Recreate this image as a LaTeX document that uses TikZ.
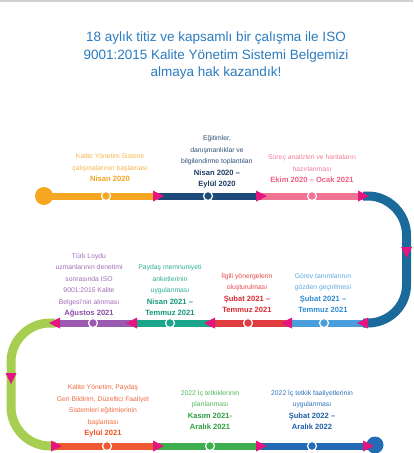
\documentclass[tikz,border=0pt]{standalone}
\usepackage{fontspec}
\setmainfont{Liberation Sans}
\definecolor{cTitle}{HTML}{2B7BBE}
\definecolor{cOr}{HTML}{F5A623}\definecolor{cOrT}{HTML}{F7B548}\definecolor{cOrB}{HTML}{F2A31F}
\definecolor{cNavy}{HTML}{1D4A7A}\definecolor{cNavyT}{HTML}{2E4E74}\definecolor{cNavyB}{HTML}{1B3B63}
\definecolor{cPink}{HTML}{F07493}\definecolor{cPinkT}{HTML}{F47E9A}\definecolor{cPinkB}{HTML}{EF5F86}
\definecolor{cArc}{HTML}{1A6A9C}
\definecolor{cMag}{HTML}{E5147F}
\definecolor{cLB}{HTML}{4A9EDC}\definecolor{cLBT}{HTML}{5CA8E0}\definecolor{cLBB}{HTML}{2E8AD2}
\definecolor{cRed}{HTML}{E03B3F}\definecolor{cRedT}{HTML}{E5474C}\definecolor{cRedB}{HTML}{D82A31}
\definecolor{cTeal}{HTML}{1BA68B}\definecolor{cTealT}{HTML}{2AAE93}\definecolor{cTealB}{HTML}{15967A}
\definecolor{cPur}{HTML}{9A5AB0}\definecolor{cPurT}{HTML}{A06BB8}\definecolor{cPurB}{HTML}{8B4BA6}
\definecolor{cLG}{HTML}{A6CE50}
\definecolor{cOR}{HTML}{EE5A31}\definecolor{cORT}{HTML}{F06A40}\definecolor{cORB}{HTML}{EC5325}
\definecolor{cGr}{HTML}{3FAE4E}\definecolor{cGrT}{HTML}{55B860}\definecolor{cGrB}{HTML}{2E9E3E}
\definecolor{cBl}{HTML}{236BB5}\definecolor{cBlT}{HTML}{2C72BA}\definecolor{cBlB}{HTML}{1F5FA8}
\newcommand{\dte}[2]{{\color{#1}\bfseries\fontsize{7.6}{11.5}\selectfont #2}}
\newcommand{\triR}[2]{\fill[cMag] (#1,#2) ++(0,-5.5) -- ++(11,5.5) -- ++(-11,5.5) -- cycle;}
\newcommand{\triL}[2]{\fill[cMag] (#1,#2) ++(0,-5.5) -- ++(-11,5.5) -- ++(11,5.5) -- cycle;}
\newcommand{\triD}[2]{\fill[cMag] (#1,#2) ++(-5.5,0) -- ++(5.5,11) -- ++(5.5,-11) -- cycle;}
\begin{document}
\begin{tikzpicture}[x=1pt,y=-1pt,
  bar/.style={line width=7pt},
  arcl/.style={line width=9pt},
  dot/.style={circle, draw=white, line width=1.2pt, minimum size=9pt, inner sep=0pt},
  bigdot/.style={circle, minimum size=18pt, inner sep=0pt},
  lbl/.style={align=center, font=\fontsize{6.8}{11.5}\selectfont, inner sep=0pt, text depth=0pt, anchor=south},
  ttl/.style={align=center, font=\fontsize{13.5}{17.5}\selectfont, text=cTitle, inner sep=0pt, text depth=0pt, anchor=south}]
\useasboundingbox (0,0) rectangle (413,453);
\fill[gray!35] (0,0) rectangle (413,1.5);

\node[ttl] (title) at (216,77) {18 aylık titiz ve kapsamlı bir çalışma ile ISO\\9001:2015 Kalite Yönetim Sistemi Belgemizi\\almaya hak kazandık!};

% coordinates
\coordinate (t1) at (158,196);
\coordinate (t2) at (261,196);
\coordinate (t3) at (363,196);
\coordinate (u1) at (363,323);
\coordinate (u2) at (287,323);
\coordinate (u3) at (210,323);
\coordinate (u4) at (132,323);
\coordinate (u5) at (55,323);
\coordinate (v0) at (56,446);
\coordinate (v1) at (158,446);
\coordinate (v2) at (261,446);
\coordinate (v3) at (368,446);

\node[bigdot, fill=cOr] (start) at (44,196) {};

% row 1 bars
\draw[bar,cOr] (start.center) -- (t1);
\draw[bar,cNavy] (t1) -- (t2);
\draw[bar,cPink] (t2) -- (t3);
% right bend
\draw[arcl,cArc] (t3) -- (368,196) .. controls (389,196) and (406.5,214) .. (406.5,235) -- (406.5,285) .. controls (406.5,306) and (389,323) .. (368,323) -- (u1);
% row 2 bars
\draw[bar,cLB] (u1) -- (u2);
\draw[bar,cRed] (u2) -- (u3);
\draw[bar,cTeal] (u3) -- (u4);
\draw[bar,cPur] (u4) -- (u5);
% left bend
\draw[arcl,cLG] (u5) -- (50,323) .. controls (28.5,323) and (11,340.5) .. (11,362) -- (11,407) .. controls (11,428.5) and (28.5,446) .. (50,446) -- (v0);
% row 3 bars
\draw[bar,cOR] (v0) -- (v1);
\draw[bar,cGr] (v1) -- (v2);
\draw[bar,cBl] (v2) -- (v3);
\node[bigdot, fill=cBl, minimum size=17pt] (finish) at (375,445) {};

% milestone dots
\node[dot, fill=cOr] (m1) at (106,196) {};
\node[dot, fill=cNavy] (m2) at (208,196) {};
\node[dot, fill=cPink] (m3) at (312,196) {};
\node[dot, fill=cLB] (m4) at (324,323) {};
\node[dot, fill=cRed] (m5) at (248,323) {};
\node[dot, fill=cTeal] (m6) at (170,323) {};
\node[dot, fill=cPur] (m7) at (93,323) {};
\node[dot, fill=cOR] (m8) at (107,446) {};
\node[dot, fill=cGr] (m9) at (210,446) {};
\node[dot, fill=cBl] (m10) at (312,446) {};

% arrow heads
\triR{153}{196}\triR{256}{196}\triR{358}{196}
\triD{406.5}{247}
\triL{368}{323}\triL{292}{323}\triL{215}{323}\triL{137}{323}\triL{60}{323}
\triD{11}{373}
\triR{51}{446}\triR{153}{446}\triR{256}{446}\triR{363}{446}

% labels
\node[lbl, text=cOrT] (l1) at (110,182) {Kalite Yönetim Sistemi\\çalışmalarının başlaması\\\dte{cOrB}{Nisan 2020}};
\node[lbl, text=cNavyT] (l2) at (217,187) {Eğitimler,\\danışmanlıklar ve\\bilgilendirme toplantıları\\\dte{cNavyB}{Nisan 2020 –}\\\dte{cNavyB}{Eylül 2020}};
\node[lbl, text=cPinkT] (l3) at (312,183) {Süreç analizleri ve haritaların\\hazırlanması\\\dte{cPinkB}{Ekim 2020 – Ocak 2021}};

\node[lbl, text=cPurT] (l4) at (89,316) {Türk Loydu\\uzmanlarının denetimi\\sonrasında ISO\\9001:2015 Kalite\\Belgesi'nin alınması\\\dte{cPurB}{Ağustos 2021}};
\node[lbl, text=cTealT] (l5) at (170,316) {Paydaş memnuniyeti\\anketlerinin\\uygulanması\\\dte{cTealB}{Nisan 2021 –}\\\dte{cTealB}{Temmuz 2021}};
\node[lbl, text=cRedT] (l6) at (247,313) {İlgili yönergelerin\\oluşturulması\\\dte{cRedB}{Şubat 2021 –}\\\dte{cRedB}{Temmuz 2021}};
\node[lbl, text=cLBT] (l7) at (323,313) {Görev tanımlarının\\gözden geçirilmesi\\\dte{cLBB}{Şubat 2021 –}\\\dte{cLBB}{Temmuz 2021}};

\node[lbl, text=cORT] (l8) at (103,436) {Kalite Yönetim, Paydaş\\Geri Bildirim, Düzeltici Faaliyet\\Sistemleri eğitimlerinin\\başlaması\\\dte{cORB}{Eylül 2021}};
\node[lbl, text=cGrT] (l9) at (210,430) {2022 İç tetkiklerinin\\planlanması\\\dte{cGrB}{Kasım 2021-}\\\dte{cGrB}{Aralık 2021}};
\node[lbl, text=cBlT] (l10) at (312,430) {2022 İç tetkik faaliyetlerinin\\uygulanması\\\dte{cBlB}{Şubat 2022 –}\\\dte{cBlB}{Aralık 2022}};
\end{tikzpicture}
\end{document}
